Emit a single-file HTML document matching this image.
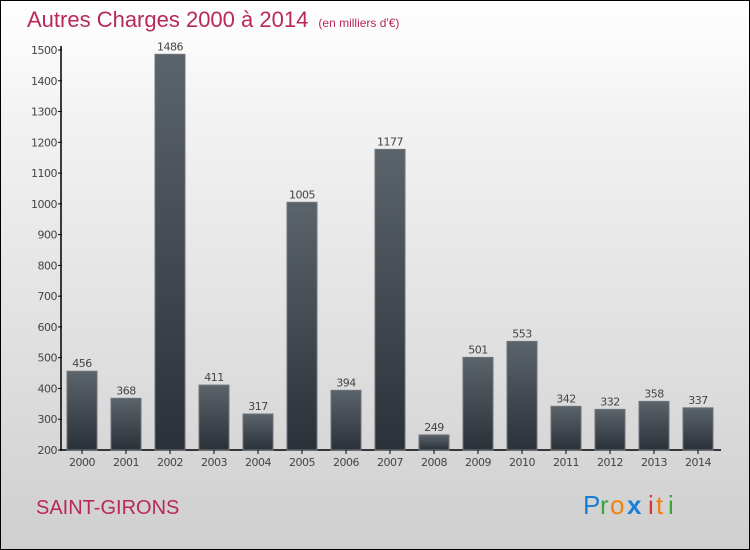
<!DOCTYPE html>
<html><head><meta charset="utf-8"><style>
body{margin:0}
#c{width:750px;height:550px;position:relative;box-sizing:border-box;border:1px solid #000;background:linear-gradient(#fff,#f3f3f3 20%,#cfcfcf);font-family:"DejaVu Sans","Liberation Sans",sans-serif;overflow:hidden}
</style></head><body>
<div id="c">
<svg width="750" height="550" style="position:absolute;left:-1px;top:-1px">
<defs><linearGradient id="g" x1="0" y1="0" x2="0" y2="1"><stop offset="0" stop-color="#5b636b"/><stop offset="1" stop-color="#2b3139"/></linearGradient></defs>
<text x="27" y="27" font-size="22" fill="#b8285a" font-family="Liberation Sans,sans-serif">Autres Charges 2000 à 2014 <tspan font-size="12" dx="4">(en milliers d'€)</tspan></text>
<g id="plot"></g>
<text x="36" y="514" font-size="20" fill="#b8285a" font-family="Liberation Sans,sans-serif">SAINT-GIRONS</text>
<g font-size="26" font-family="Liberation Sans,sans-serif"><text x="583" y="514" fill="#1a7fd4">P</text><text x="600" y="514" fill="#3aa63a">r</text><text x="610" y="514" fill="#f08010">o</text><text x="627" y="514" fill="#1a7fd4" font-weight="bold">x</text><text x="648" y="514" fill="#e03030">i</text><text x="656" y="514" fill="#f08010">t</text><text x="668" y="514" fill="#3aa63a">i</text></g>
</svg>
</div>
<script>
const years=["2000","2001","2002","2003","2004","2005","2006","2007","2008","2009","2010","2011","2012","2013","2014"];
const values=[456,368,1486,411,317,1005,394,1177,249,501,553,342,332,358,337];
const yTicks=[200,300,400,500,600,700,800,900,1000,1100,1200,1300,1400,1500];
const NS="http://www.w3.org/2000/svg";
const g=document.getElementById('plot');
const y=v=>450-(v-200)*400/1300;
const x=i=>82+i*44;
function mk(t,a,txt){const e=document.createElementNS(NS,t);for(const k in a)e.setAttribute(k,a[k]);if(txt!==undefined)e.textContent=txt;g.appendChild(e);return e;}
let ax=mk('line',{x1:61,y1:46,x2:61,y2:451,stroke:'#000','stroke-width':1.5});


let bx=mk('line',{x1:60,y1:450,x2:721,y2:450,stroke:'#000','stroke-width':1.5});


yTicks.forEach(t=>{
 mk('line',{x1:58,y1:y(t),x2:62,y2:y(t),stroke:'#000'});
 let l=mk('text',{x:57,y:y(t)+4,'font-size':11,'text-anchor':'end',fill:'#444','letter-spacing':'-0.5'},t);
 
 
});
years.forEach((yr,i)=>{
 const v=values[i];
 let b=mk('rect',{x:x(i)-15,y:y(v),width:30,height:450-y(v),fill:'url(#g)',stroke:'#6d747b','stroke-width':1});
 
 
 let vl=mk('text',{x:x(i),y:y(v)-4,'font-size':11,'text-anchor':'middle',fill:'#444','letter-spacing':'-0.5'},v);
 
 
 mk('line',{x1:x(i),y1:450,x2:x(i),y2:454,stroke:'#000'});
 let xl=mk('text',{x:x(i),y:466,'font-size':11,'text-anchor':'middle',fill:'#444','letter-spacing':'-0.5'},yr);
 
 
});
</script>
</body></html>
